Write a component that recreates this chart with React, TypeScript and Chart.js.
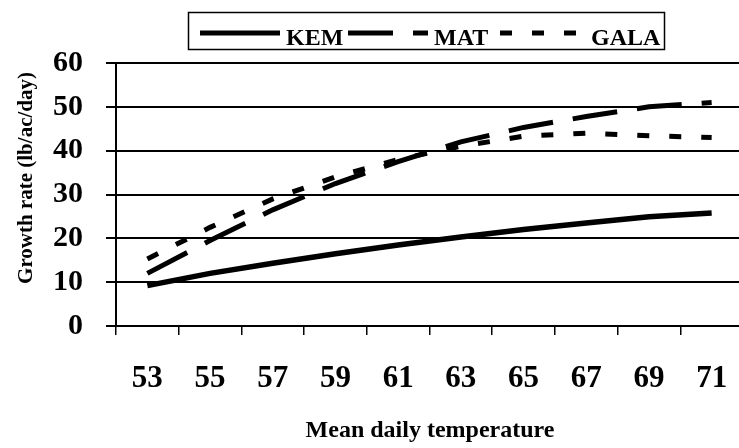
import React, { useEffect, useRef } from "react";
import { Chart, registerables } from "chart.js";

Chart.register(...registerables);

const categories = ["53", "55", "57", "59", "61", "63", "65", "67", "69", "71"];
const kemValues = [9.2, 12.0, 14.3, 16.5, 18.5, 20.3, 22.0, 23.5, 24.9, 25.8];
const matValues = [12.0, 19.5, 26.5, 32.5, 37.5, 42.0, 45.3, 47.8, 50.0, 51.0];
const galaValues = [15.3, 22.5, 29.0, 34.0, 38.0, 41.0, 43.3, 44.0, 43.4, 43.0];
const seriesNames = ["KEM", "MAT", "GALA"];
const seriesDash = [[], [45, 20], [12, 20]];
const yTicks = [0, 10, 20, 30, 40, 50, 60];
const xTitle = "Mean daily temperature";
const yTitle = "Growth rate (lb/ac/day)";

const SERIF = '"Liberation Serif", "Times New Roman", serif';

const decorPlugin = {
  id: "decor",
  afterDraw(chart: any) {
    const ctx = chart.ctx;
    ctx.save();
    ctx.fillStyle = "#000";
    ctx.strokeStyle = "#000";

    // Legend box
    ctx.lineWidth = 1.5;
    ctx.setLineDash([]);
    ctx.strokeRect(188.5, 12.5, 476, 37);

    const legendItems = [
      { x0: 200, x1: 280, tx: 286 },
      { x0: 348, x1: 428, tx: 434 },
      { x0: 500, x1: 588, tx: 591 },
    ];
    ctx.font = `bold 24px ${SERIF}`;
    ctx.textBaseline = "alphabetic";
    ctx.textAlign = "left";
    legendItems.forEach((it, i) => {
      ctx.save();
      ctx.lineWidth = 5;
      ctx.lineCap = "butt";
      ctx.setLineDash(seriesDash[i]);
      ctx.beginPath();
      ctx.moveTo(it.x0, 33);
      ctx.lineTo(it.x1, 33);
      ctx.stroke();
      ctx.restore();
      ctx.fillText(seriesNames[i], it.tx, 45);
    });

    // Y title
    ctx.save();
    ctx.translate(27, 178);
    ctx.rotate(-Math.PI / 2);
    ctx.font = `bold 21px ${SERIF}`;
    ctx.textAlign = "center";
    ctx.textBaseline = "middle";
    ctx.fillText(yTitle, 0, 0);
    ctx.restore();

    // X title
    ctx.font = `bold 24px ${SERIF}`;
    ctx.textAlign = "center";
    ctx.textBaseline = "alphabetic";
    ctx.fillText(xTitle, 430, 437);

    ctx.restore();
  },
};

export default function App() {
  const canvasRef = useRef<HTMLCanvasElement | null>(null);

  useEffect(() => {
    if (!canvasRef.current) return;
    const values = [kemValues, matValues, galaValues];
    const chart = new Chart(canvasRef.current, {
      type: "line",
      data: {
        labels: categories,
        datasets: seriesNames.map((name, i) => ({
          label: name,
          data: values[i],
          borderColor: "#000",
          backgroundColor: "#000",
          borderWidth: i === 0 ? 5.5 : 5,
          borderDash: seriesDash[i],
          pointRadius: 0,
          tension: 0,
          fill: false,
        })),
      },
      options: {
        responsive: false,
        animation: false,
        layout: { padding: { top: 63, left: 0, right: 0, bottom: 0 } },
        plugins: {
          legend: { display: false },
          tooltip: { enabled: false },
          title: { display: false },
        },
        scales: {
          x: {
            type: "category",
            offset: true,
            grid: {
              offset: true,
              drawOnChartArea: false,
              drawTicks: true,
              tickLength: 9,
              color: "#000",
              lineWidth: 1.5,
            },
            border: { display: true, color: "#000", width: 2 },
            ticks: {
              color: "#000",
              font: { family: SERIF, size: 31, weight: "bold" },
              padding: 25,
              maxRotation: 0,
              autoSkip: false,
            },
            afterFit: (scale: any) => {
              scale.height = 122;
              scale.paddingLeft = 0;
              scale.paddingRight = 0;
            },
          },
          y: {
            min: 0,
            max: 60,
            afterBuildTicks: (scale: any) => {
              scale.ticks = yTicks.map((v) => ({ value: v }));
            },
            grid: {
              color: "#000",
              lineWidth: 2,
              tickLength: 10,
              drawTicks: true,
            },
            border: { display: true, color: "#000", width: 2 },
            ticks: {
              color: "#000",
              font: { family: SERIF, size: 30, weight: "bold" },
              padding: 23,
            },
            afterFit: (scale: any) => {
              scale.width = 116;
              scale.paddingTop = 0;
              scale.paddingBottom = 0;
            },
          },
        },
      },
      plugins: [decorPlugin],
    });
    return () => chart.destroy();
  }, []);

  return (
    <div
      style={{
        position: "fixed",
        left: 0,
        top: 0,
        width: 739,
        height: 448,
        overflow: "hidden",
        background: "#fff",
      }}
    >
      <canvas ref={canvasRef} width={743} height={448} style={{ display: "block" }} />
    </div>
  );
}
